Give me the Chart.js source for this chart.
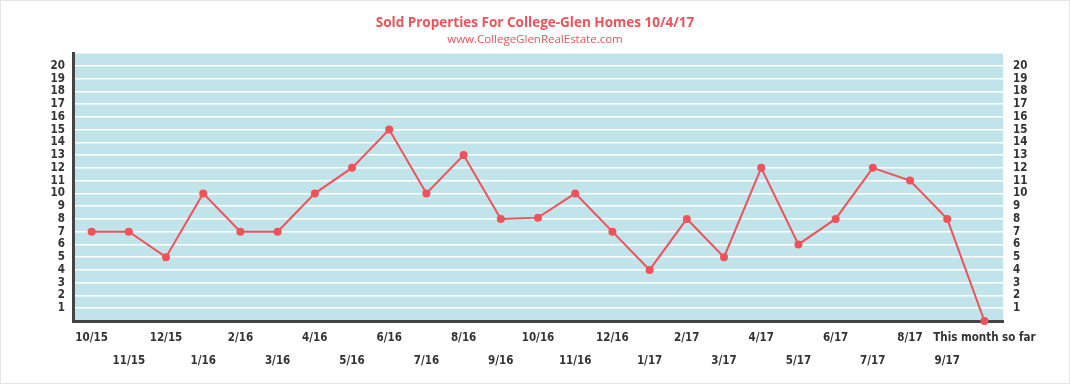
<!DOCTYPE html>
<html>
<head>
<meta charset="utf-8">
<script src="https://cdn.jsdelivr.net/npm/chart.js@4/dist/chart.umd.min.js"></script>
<style>
  html, body { margin: 0; padding: 0; background: #fff; }
  #wrap { width: 1068px; height: 382px; border: 1px solid #e6e6e6; position: relative; }
  canvas { display: block; }
</style>
</head>
<body>
<div id="wrap"><canvas id="myChart" width="1068" height="382"></canvas></div>
<script>
const months = ["10/15", "11/15", "12/15", "1/16", "2/16", "3/16", "4/16", "5/16", "6/16", "7/16",
	"8/16", "9/16", "10/16", "11/16", "12/16", "1/17", "2/17", "3/17", "4/17", "5/17",
	"6/17", "7/17", "8/17", "9/17", "This month so far"];
const sold = [7, 7, 5, 10, 7, 7, 10, 12, 15, 10, 13, 8, 8.1, 10, 7, 4, 8, 5, 12, 6, 8, 12, 11, 8, 0];
const yTicks = [1, 2, 3, 4, 5, 6, 7, 8, 9, 10, 11, 12, 13, 14, 15, 16, 17, 18, 19, 20];

const colors = {
	red: "#f0525a",
	plotBg: "#c0e4ea",
	axis: "#444444",
	text: "#333333",
};

const tickFont = { family: "'DejaVu Sans Condensed', 'Liberation Sans Narrow', sans-serif", size: 11.5, weight: "bold" };

// fill the plot area with the light blue background
const plotBackground = {
	id: "plotBackground",
	beforeDraw(chart) {
		const { ctx, chartArea: a } = chart;
		ctx.save();
		ctx.fillStyle = colors.plotBg;
		ctx.fillRect(a.left, a.top, a.right - a.left, a.bottom - a.top);
		ctx.restore();
	},
};

const yTickLabel = (v) => (yTicks.includes(v) ? String(v) : "");

const ctx = document.getElementById("myChart").getContext("2d");
new Chart(ctx, {
	type: "line",
	data: {
		labels: months,
		datasets: [
			{
				label: "Sold",
				data: sold,
				borderColor: colors.red,
				backgroundColor: colors.red,
				borderWidth: 2,
				pointRadius: 4,
				pointBackgroundColor: colors.red,
				pointBorderWidth: 0,
				tension: 0,
				clip: false,
			},
		],
	},
	options: {
		responsive: false,
		animation: false,
		layout: { padding: { top: 0, right: 0, bottom: 0, left: 0 } },
		plugins: {
			legend: { display: false },
			tooltip: { enabled: false },
			title: {
				display: true,
				text: "Sold Properties For College-Glen Homes 10/4/17",
				color: colors.red,
				font: { family: "'Open Sans', sans-serif", size: 13.5, weight: "bold" },
				padding: { top: 14, bottom: 0 },
			},
			subtitle: {
				display: true,
				text: "www.CollegeGlenRealEstate.com",
				color: colors.red,
				font: { family: "'Open Sans', sans-serif", size: 11.5 },
				padding: { top: 2, bottom: 6 },
			},
		},
		scales: {
			x: {
				offset: true,
				grid: { display: false, drawTicks: false },
				border: { display: true, color: colors.axis, width: 3 },
				ticks: {
					autoSkip: false,
					maxRotation: 0,
					minRotation: 0,
					padding: 6,
					color: colors.text,
					font: { ...tickFont, lineHeight: 1.95 },
					callback: (v, i) => (i % 2 === 0 ? [months[i]] : ["", months[i]]),
				},
				afterFit: (s) => { s.height = 62; },
			},
			y: {
				position: "left",
				min: 0,
				max: 21,
				grid: { color: "#ffffff", lineWidth: 1.5, drawTicks: false },
				border: { display: true, color: colors.axis, width: 3 },
				ticks: { stepSize: 1, autoSkip: false, padding: 8, color: colors.text, font: tickFont, callback: yTickLabel },
				afterFit: (s) => { s.width = 72; },
			},
			y2: {
				position: "right",
				min: 0,
				max: 21,
				grid: { display: false, drawTicks: false },
				border: { display: false },
				ticks: { stepSize: 1, autoSkip: false, padding: 10, color: colors.text, font: tickFont, callback: yTickLabel },
				afterFit: (s) => { s.width = 66; },
			},
		},
	},
	plugins: [plotBackground],
});
</script>
</body>
</html>
